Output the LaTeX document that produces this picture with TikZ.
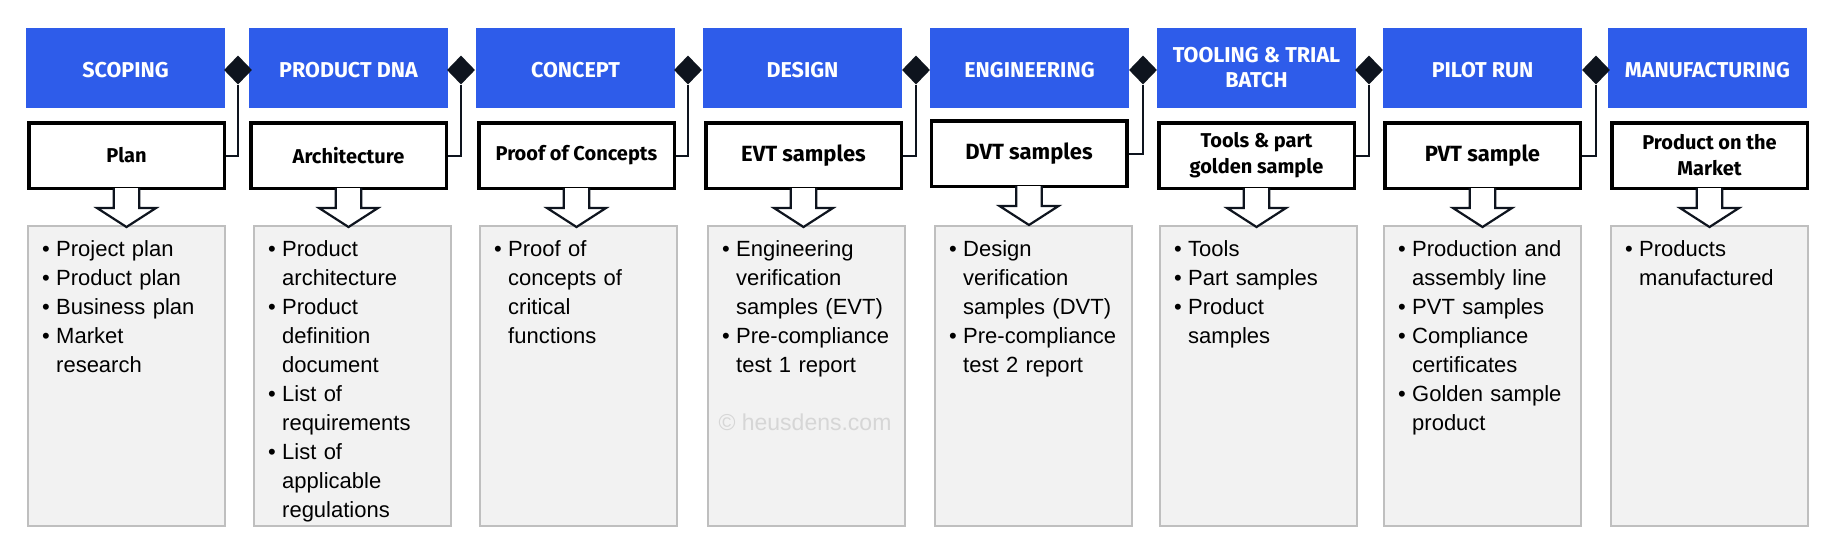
\documentclass[tikz,border=0pt]{standalone}
\usepackage{fontspec}
\setmainfont{Liberation Sans}
\newfontfamily\headfont{Fira Sans}
\usetikzlibrary{shapes.geometric}
\definecolor{hblue}{RGB}{46,92,234}
\definecolor{ink}{RGB}{14,20,30}
\definecolor{gfill}{RGB}{242,242,242}
\definecolor{gline}{RGB}{191,191,191}
\definecolor{wmark}{RGB}{214,214,214}
\hyphenpenalty=10000
% bullet line and continuation line
\newcommand\bl[1]{\par\noindent\hbox to 14pt{\textbullet\hfil}\vphantom{l}#1}
\newcommand\cl[1]{\par\noindent\hbox to 14pt{\hfil}\vphantom{l}#1}
\tikzset{
 phase/.style={fill=hblue, minimum width=199pt, minimum height=80pt, inner sep=0pt, text=white,
   font=\headfont\bfseries\fontsize{21.5}{25}\selectfont, align=center},
 oneline/.style={text height=19pt, text depth=0pt},
 outbox/.style={draw=black, line width=3.5pt, fill=white, minimum width=195.5pt, minimum height=65.5pt,
   inner sep=0pt, font=\headfont\bfseries\fontsize{20}{26}\selectfont, align=center},
 bigger/.style={font=\headfont\bfseries\fontsize{22}{26}\selectfont},
 listbox/.style={draw=gline, line width=2pt, fill=gfill, minimum width=197pt, minimum height=300pt, inner sep=0pt},
 items/.style={anchor=north west, inner sep=0pt, text width=185pt, align=left,
   font=\fontsize{22}{29}\selectfont},
 gate/.style={diamond, fill=ink, minimum width=28pt, minimum height=29pt, inner sep=0pt},
 link/.style={draw=ink, line width=2pt},
 hollow/.style={draw=ink, line width=2.2pt, fill=white, line join=miter},
}
\begin{document}
\begin{tikzpicture}[x=1pt, y=-1pt]
\useasboundingbox (0,0) rectangle (1831,544);
% phase headers
\node[phase, oneline] (b1) at (125.5,68) {SCOPING};
\node[phase, oneline] (b2) at (348.5,68) {PRODUCT DNA};
\node[phase, oneline] (b3) at (575.5,68) {CONCEPT};
\node[phase, oneline] (b4) at (802.5,68) {DESIGN};
\node[phase, oneline] (b5) at (1029.5,68) {ENGINEERING};
\node[phase] (b6) at (1256.5,68) {TOOLING \& TRIAL\\BATCH};
\node[phase, oneline] (b7) at (1482.5,68) {PILOT RUN};
\node[phase, oneline] (b8) at (1707.5,68) {MANUFACTURING};
% list boxes
\node[listbox] (g1) at (126.5,376) {};
\node[listbox] (g2) at (352.5,376) {};
\node[listbox] (g3) at (578.5,376) {};
\node[listbox] (g4) at (806.5,376) {};
\node[listbox] (g5) at (1033.5,376) {};
\node[listbox] (g6) at (1258.5,376) {};
\node[listbox] (g7) at (1482.5,376) {};
\node[listbox] (g8) at (1709.5,376) {};
% watermark
\node[text=wmark, font=\fontsize{23}{23}\selectfont] (wm) at (805,422) {© heusdens.com};
% list texts
\node[items] (t1) at (42,227) {\bl{Project plan}\bl{Product plan}\bl{Business plan}\bl{Market}\cl{research}};
\node[items] (t2) at (268,227) {\bl{Product}\cl{architecture}\bl{Product}\cl{definition}\cl{document}\bl{List of}\cl{requirements}\bl{List of}\cl{applicable}\cl{regulations}};
\node[items] (t3) at (494,227) {\bl{Proof of}\cl{concepts of}\cl{critical}\cl{functions}};
\node[items] (t4) at (722,227) {\bl{Engineering}\cl{verification}\cl{samples (EVT)}\bl{Pre-compliance}\cl{test 1 report}};
\node[items] (t5) at (949,227) {\bl{Design}\cl{verification}\cl{samples (DVT)}\bl{Pre-compliance}\cl{test 2 report}};
\node[items] (t6) at (1174,227) {\bl{Tools}\bl{Part samples}\bl{Product}\cl{samples}};
\node[items] (t7) at (1398,227) {\bl{Production and}\cl{assembly line}\bl{PVT samples}\bl{Compliance}\cl{certificates}\bl{Golden sample}\cl{product}};
\node[items] (t8) at (1625,227) {\bl{Products}\cl{manufactured}};
% output boxes
\node[outbox] (w1) at (126.5,155.5) {Plan};
\node[outbox] (w2) at (348.5,155.5) {Architecture};
\node[outbox] (w3) at (576.5,155.5) {Proof of Concepts};
\node[outbox, bigger] (w4) at (803.5,155.5) {EVT samples};
\node[outbox, bigger] (w5) at (1029,153.5) {DVT samples};
\node[outbox] (w6) at (1256.5,155.5) {Tools \& part\\golden sample};
\node[outbox, bigger] (w7) at (1482.5,155.5) {PVT sample};
\node[outbox] (w8) at (1709.5,155.5) {Product on the\\Market};
% hollow arrows
\foreach \w in {w1,w2,w3,w4,w5,w6,w7,w8}{
  \draw[hollow] (\w.south) ++(-12.7,-2) -- ++(0,20) -- ++(-16.8,0) -- ++(29.5,19) -- ++(29.5,-19) -- ++(-16.8,0) -- ++(0,-20);
}
% gates and links
\node[gate] (d1) at (238,70) {};
\node[gate] (d2) at (461,70) {};
\node[gate] (d3) at (688,70) {};
\node[gate] (d4) at (916,70) {};
\node[gate] (d5) at (1143,70) {};
\node[gate] (d6) at (1369,70) {};
\node[gate] (d7) at (1596,70) {};
\draw[link] (d1.south) |- (w1.east);
\draw[link] (d2.south) |- (w2.east);
\draw[link] (d3.south) |- (w3.east);
\draw[link] (d4.south) |- (w4.east);
\draw[link] (d5.south) |- (w5.east);
\draw[link] (d6.south) |- (w6.east);
\draw[link] (d7.south) |- (w7.east);
\end{tikzpicture}
\end{document}
